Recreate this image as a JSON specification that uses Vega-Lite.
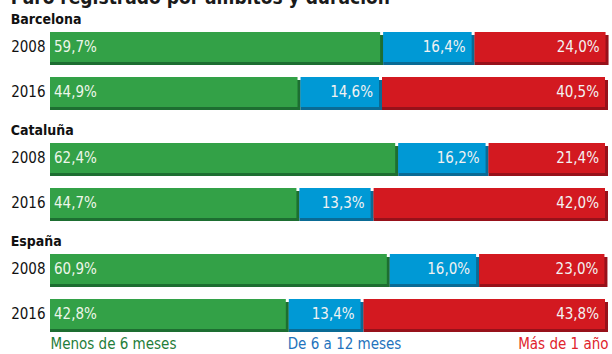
{
  "$schema": "https://vega.github.io/schema/vega-lite/v6.json",
  "padding": {"left": 10, "top": -11, "right": 2, "bottom": 2},
  "background": "white",
  "title": {"text": "Paro registrado por ámbitos y duración", "anchor": "start", "fontSize": 19, "fontWeight": "bold", "color": "#1a1a1a", "offset": 5, "font": "Liberation Sans Narrow, DejaVu Sans Condensed, sans-serif"},
  "config": {
    "view": {"stroke": null},
    "font": "Liberation Sans Narrow, DejaVu Sans Condensed, sans-serif",
    "concat": {"spacing": 14},
    "axis": {"labelFont": "Liberation Sans Narrow, DejaVu Sans Condensed, sans-serif"}
  },
  "datasets": {
    "paro": [
      {"ambito": "Barcelona", "anio": "2008", "duracion": "Menos de 6 meses", "orden": 1, "v": 59.7},
      {"ambito": "Barcelona", "anio": "2008", "duracion": "De 6 a 12 meses", "orden": 2, "v": 16.4},
      {"ambito": "Barcelona", "anio": "2008", "duracion": "Más de 1 año", "orden": 3, "v": 24.0},
      {"ambito": "Barcelona", "anio": "2016", "duracion": "Menos de 6 meses", "orden": 1, "v": 44.9},
      {"ambito": "Barcelona", "anio": "2016", "duracion": "De 6 a 12 meses", "orden": 2, "v": 14.6},
      {"ambito": "Barcelona", "anio": "2016", "duracion": "Más de 1 año", "orden": 3, "v": 40.5},
      {"ambito": "Cataluña", "anio": "2008", "duracion": "Menos de 6 meses", "orden": 1, "v": 62.4},
      {"ambito": "Cataluña", "anio": "2008", "duracion": "De 6 a 12 meses", "orden": 2, "v": 16.2},
      {"ambito": "Cataluña", "anio": "2008", "duracion": "Más de 1 año", "orden": 3, "v": 21.4},
      {"ambito": "Cataluña", "anio": "2016", "duracion": "Menos de 6 meses", "orden": 1, "v": 44.7},
      {"ambito": "Cataluña", "anio": "2016", "duracion": "De 6 a 12 meses", "orden": 2, "v": 13.3},
      {"ambito": "Cataluña", "anio": "2016", "duracion": "Más de 1 año", "orden": 3, "v": 42.0},
      {"ambito": "España", "anio": "2008", "duracion": "Menos de 6 meses", "orden": 1, "v": 60.9},
      {"ambito": "España", "anio": "2008", "duracion": "De 6 a 12 meses", "orden": 2, "v": 16.0},
      {"ambito": "España", "anio": "2008", "duracion": "Más de 1 año", "orden": 3, "v": 23.0},
      {"ambito": "España", "anio": "2016", "duracion": "Menos de 6 meses", "orden": 1, "v": 42.8},
      {"ambito": "España", "anio": "2016", "duracion": "De 6 a 12 meses", "orden": 2, "v": 13.4},
      {"ambito": "España", "anio": "2016", "duracion": "Más de 1 año", "orden": 3, "v": 43.8}
    ]
  },
  "vconcat": [
    {
      "title": {"text": "Barcelona", "anchor": "start", "fontSize": 14, "fontWeight": "bold", "offset": 5, "color": "#111111"},
      "width": 558, "height": 75,
      "data": {"name": "paro"},
      "transform": [
        {"filter": "datum.ambito == 'Barcelona'"},
        {"stack": "v", "groupby": ["ambito", "anio"], "sort": [{"field": "orden"}], "as": ["v0", "v1"]},
        {"calculate": "replace(format(datum.v, '.1f'), '.', ',') + '%'", "as": "label"}
      ],
      "encoding": {
        "y": {"field": "anio", "type": "ordinal", "scale": {"paddingInner": 0.333, "paddingOuter": 0},
              "axis": {"title": null, "domain": false, "ticks": false, "labelFontSize": 15, "labelColor": "#111111", "labelPadding": 5}}
      },
      "resolve": {"scale": {"color": "independent"}},
      "layer": [
        {"mark": {"type": "bar", "yOffset": 3},
         "encoding": {
           "x": {"field": "v0", "type": "quantitative", "scale": {"domain": [0, 100], "nice": false}, "axis": null},
           "x2": {"field": "v1"},
           "color": {"field": "duracion", "type": "nominal", "legend": null,
                     "scale": {"domain": ["Menos de 6 meses", "De 6 a 12 meses", "Más de 1 año"], "range": ["#1d6e31", "#0a6b95", "#97111a"]}}
         }},
        {"mark": {"type": "bar", "x2Offset": -3},
         "encoding": {
           "x": {"field": "v0", "type": "quantitative"},
           "x2": {"field": "v1"},
           "color": {"field": "duracion", "type": "nominal", "legend": null,
                     "scale": {"domain": ["Menos de 6 meses", "De 6 a 12 meses", "Más de 1 año"], "range": ["#33a147", "#0099d5", "#d31920"]}}
         }},
        {"transform": [{"filter": "datum.orden == 1"}],
         "mark": {"type": "text", "align": "left", "dx": 4, "fontSize": 15, "color": "#eef6ea", "baseline": "middle"},
         "encoding": {"x": {"field": "v0", "type": "quantitative"}, "text": {"field": "label"}}},
        {"transform": [{"filter": "datum.orden != 1"}],
         "mark": {"type": "text", "align": "right", "dx": -9, "fontSize": 15, "color": "#f2f2f2", "baseline": "middle"},
         "encoding": {"x": {"field": "v1", "type": "quantitative"}, "text": {"field": "label"}}}
      ]
    },
    {
      "title": {"text": "Cataluña", "anchor": "start", "fontSize": 14, "fontWeight": "bold", "offset": 5, "color": "#111111"},
      "width": 558, "height": 75,
      "data": {"name": "paro"},
      "transform": [
        {"filter": "datum.ambito == 'Cataluña'"},
        {"stack": "v", "groupby": ["ambito", "anio"], "sort": [{"field": "orden"}], "as": ["v0", "v1"]},
        {"calculate": "replace(format(datum.v, '.1f'), '.', ',') + '%'", "as": "label"}
      ],
      "encoding": {
        "y": {"field": "anio", "type": "ordinal", "scale": {"paddingInner": 0.333, "paddingOuter": 0},
              "axis": {"title": null, "domain": false, "ticks": false, "labelFontSize": 15, "labelColor": "#111111", "labelPadding": 5}}
      },
      "resolve": {"scale": {"color": "independent"}},
      "layer": [
        {"mark": {"type": "bar", "yOffset": 3},
         "encoding": {
           "x": {"field": "v0", "type": "quantitative", "scale": {"domain": [0, 100], "nice": false}, "axis": null},
           "x2": {"field": "v1"},
           "color": {"field": "duracion", "type": "nominal", "legend": null,
                     "scale": {"domain": ["Menos de 6 meses", "De 6 a 12 meses", "Más de 1 año"], "range": ["#1d6e31", "#0a6b95", "#97111a"]}}
         }},
        {"mark": {"type": "bar", "x2Offset": -3},
         "encoding": {
           "x": {"field": "v0", "type": "quantitative"},
           "x2": {"field": "v1"},
           "color": {"field": "duracion", "type": "nominal", "legend": null,
                     "scale": {"domain": ["Menos de 6 meses", "De 6 a 12 meses", "Más de 1 año"], "range": ["#33a147", "#0099d5", "#d31920"]}}
         }},
        {"transform": [{"filter": "datum.orden == 1"}],
         "mark": {"type": "text", "align": "left", "dx": 4, "fontSize": 15, "color": "#eef6ea", "baseline": "middle"},
         "encoding": {"x": {"field": "v0", "type": "quantitative"}, "text": {"field": "label"}}},
        {"transform": [{"filter": "datum.orden != 1"}],
         "mark": {"type": "text", "align": "right", "dx": -9, "fontSize": 15, "color": "#f2f2f2", "baseline": "middle"},
         "encoding": {"x": {"field": "v1", "type": "quantitative"}, "text": {"field": "label"}}}
      ]
    },
    {
      "title": {"text": "España", "anchor": "start", "fontSize": 14, "fontWeight": "bold", "offset": 5, "color": "#111111"},
      "width": 558, "height": 75,
      "data": {"name": "paro"},
      "transform": [
        {"filter": "datum.ambito == 'España'"},
        {"stack": "v", "groupby": ["ambito", "anio"], "sort": [{"field": "orden"}], "as": ["v0", "v1"]},
        {"calculate": "replace(format(datum.v, '.1f'), '.', ',') + '%'", "as": "label"}
      ],
      "encoding": {
        "y": {"field": "anio", "type": "ordinal", "scale": {"paddingInner": 0.333, "paddingOuter": 0},
              "axis": {"title": null, "domain": false, "ticks": false, "labelFontSize": 15, "labelColor": "#111111", "labelPadding": 5}}
      },
      "resolve": {"scale": {"color": "independent"}},
      "layer": [
        {"mark": {"type": "bar", "yOffset": 3},
         "encoding": {
           "x": {"field": "v0", "type": "quantitative", "scale": {"domain": [0, 100], "nice": false},
                 "axis": {"orient": "bottom", "values": [0, 52.7, 100], "title": null, "domain": false, "ticks": false, "grid": false,
                          "labelFontSize": 15, "labelPadding": 7, "labelBaseline": "top",
                          "labelExpr": "datum.value == 0 ? 'Menos de 6 meses' : datum.value == 100 ? 'Más de 1 año' : 'De 6 a 12 meses'",
                          "labelAlign": {"condition": [{"test": "datum.value == 0", "value": "left"}, {"test": "datum.value == 100", "value": "right"}], "value": "center"},
                          "labelColor": {"condition": [{"test": "datum.value == 0", "value": "#1f7d3a"}, {"test": "datum.value == 100", "value": "#e0232b"}], "value": "#1f73bd"},
                          "labelOverlap": false, "labelFlush": false}},
           "x2": {"field": "v1"},
           "color": {"field": "duracion", "type": "nominal", "legend": null,
                     "scale": {"domain": ["Menos de 6 meses", "De 6 a 12 meses", "Más de 1 año"], "range": ["#1d6e31", "#0a6b95", "#97111a"]}}
         }},
        {"mark": {"type": "bar", "x2Offset": -3},
         "encoding": {
           "x": {"field": "v0", "type": "quantitative"},
           "x2": {"field": "v1"},
           "color": {"field": "duracion", "type": "nominal", "legend": null,
                     "scale": {"domain": ["Menos de 6 meses", "De 6 a 12 meses", "Más de 1 año"], "range": ["#33a147", "#0099d5", "#d31920"]}}
         }},
        {"transform": [{"filter": "datum.orden == 1"}],
         "mark": {"type": "text", "align": "left", "dx": 4, "fontSize": 15, "color": "#eef6ea", "baseline": "middle"},
         "encoding": {"x": {"field": "v0", "type": "quantitative"}, "text": {"field": "label"}}},
        {"transform": [{"filter": "datum.orden != 1"}],
         "mark": {"type": "text", "align": "right", "dx": -9, "fontSize": 15, "color": "#f2f2f2", "baseline": "middle"},
         "encoding": {"x": {"field": "v1", "type": "quantitative"}, "text": {"field": "label"}}}
      ]
    }
  ]
}
